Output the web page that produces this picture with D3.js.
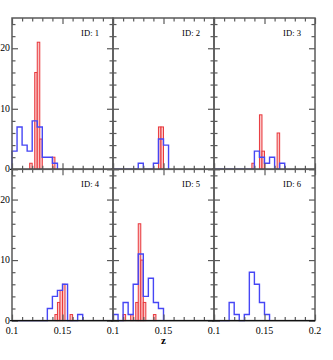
<!DOCTYPE html>
<html>
<head>
<meta charset="utf-8">
<script src="https://cdn.jsdelivr.net/npm/d3@7"></script>
<style>
  body { margin: 0; background: #fff; }
  text { font-family: "Liberation Serif", "DejaVu Serif", serif; fill: #000; }
</style>
</head>
<body>
<svg width="333" height="360"></svg>
<script>
// panel ids, left to right, top to bottom
const ids = [1, 2, 3, 4, 5, 6];

// blue histograms: bins of 0.005 starting at z = 0.1
const blueStart = 0.1, blueWidth = 0.005;
const blue1 = [3, 7, 4, 3, 8, 7, 2, 2, 1];
const blue2 = [0, 0, 0, 0, 0, 1, 0, 0, 1, 5, 4];
const blue3 = [0, 0, 0, 0, 0, 0, 0, 0, 3, 2, 1, 2, 0, 1];
const blue4 = [0, 0, 0, 0, 0, 0, 0, 2, 4, 5, 6, 0, 0, 1];
const blue5 = [1, 0, 3, 1, 6, 11, 4, 7, 3, 2];
const blue6 = [0, 0, 0, 3, 1, 0, 1, 8, 6, 3, 1];

// red histograms: bins of 0.0025 starting at z = 0.1
const redStart = 0.1, redWidth = 0.0025;
const red1 = [0, 0, 0, 0, 0, 0, 0, 1, 0, 16, 21, 5, 0, 0, 0, 0, 2];
const red2 = [0, 0, 0, 0, 0, 0, 0, 0, 0, 0, 0, 0, 0, 0, 0, 0, 0, 0, 7, 7];
const red3 = [0, 0, 0, 0, 0, 0, 0, 0, 0, 0, 0, 0, 0, 0, 0, 1, 0, 0, 9, 3, 0, 0, 0, 0, 0, 6];
const red4 = [0, 0, 0, 0, 0, 0, 0, 0, 0, 0, 0, 0, 0, 0, 0, 0, 0, 1, 3, 5, 6, 0, 0, 1];
const red5 = [0, 0, 0, 0, 1, 0, 0, 1, 0, 3, 16, 10, 3, 0, 0, 0, 1];
const red6 = [];

const blues = [blue1, blue2, blue3, blue4, blue5, blue6];
const reds = [red1, red2, red3, red4, red5, red6];

// axis ticks
const zMajor = [0.1, 0.15, 0.2];
const zMinor = [0.11, 0.12, 0.13, 0.14, 0.16, 0.17, 0.18, 0.19];
const zLabels = [0.1, 0.15];
const yMajor = [0, 10, 20];
const yMinor = [2, 4, 6, 8, 12, 14, 16, 18, 22, 24];

const padL = 12, padT = 18, pw = 101, ph = 151.3;
const frameCol = "#5a5a5a";

const svg = d3.select("svg");
const x = d3.scaleLinear().domain([0.1, 0.2]).range([0, pw]);
const y = d3.scaleLinear().domain([0, 25]).range([ph, 0]);

ids.forEach((id, k) => {
  const col = k % 3, row = Math.floor(k / 3);
  const g = svg.append("g")
    .attr("transform", `translate(${padL + col * pw},${padT + row * ph})`);

  // red bars
  const redData = reds[k].map((c, i) => ({z: redStart + i * redWidth, c: c})).filter(d => d.c > 0);
  g.selectAll("rect.red").data(redData).enter().append("rect")
    .attr("class", "red")
    .attr("x", d => x(d.z))
    .attr("width", d => x(d.z + redWidth) - x(d.z))
    .attr("y", d => y(d.c))
    .attr("height", d => y(0) - y(d.c))
    .attr("fill", "#fbc4c4")
    .attr("stroke", "#e8383c")
    .attr("stroke-width", 1);

  // blue step outline
  const b = blues[k];
  const pts = [[blueStart, 0]];
  b.forEach((c, i) => pts.push([blueStart + i * blueWidth, c]));
  pts.push([blueStart + b.length * blueWidth, 0]);
  g.append("path")
    .datum(pts)
    .attr("fill", "none")
    .attr("stroke", "#4646f5")
    .attr("stroke-width", 1.4)
    .attr("d", d3.line().x(d => x(d[0])).y(d => y(d[1])).curve(d3.curveStepAfter));

  // inward ticks on all four sides
  const fmt = () => "";
  const axes = [
    [d3.axisBottom(x), `translate(0,${ph})`, zMajor, zMinor],
    [d3.axisTop(x), "translate(0,0)", zMajor, zMinor],
    [d3.axisLeft(y), "translate(0,0)", yMajor, yMinor],
    [d3.axisRight(y), `translate(${pw},0)`, yMajor, yMinor]
  ];
  axes.forEach(([ax, tr, maj, min]) => {
    [[maj, -6], [min, -3.5]].forEach(([vals, size]) => {
      const a = g.append("g").attr("transform", tr)
        .call(ax.tickValues(vals).tickSize(size).tickSizeOuter(0).tickFormat(fmt));
      a.select(".domain").remove();
      a.selectAll("line").attr("stroke", frameCol).attr("stroke-width", 1.2);
    });
  });

  // frame
  g.append("rect")
    .attr("width", pw).attr("height", ph)
    .attr("fill", "none")
    .attr("stroke", frameCol)
    .attr("stroke-width", 1.5);

  // zero line
  g.append("line")
    .attr("x1", -2).attr("x2", pw)
    .attr("y1", y(0)).attr("y2", y(0))
    .attr("stroke", "#111").attr("stroke-width", 1.2);

  // id label
  g.append("text")
    .attr("x", pw - 14).attr("y", 18)
    .attr("text-anchor", "end")
    .style("font-size", "8.6px")
    .text("ID: " + id);

  // y labels on left column
  if (col === 0) {
    g.selectAll("text.yl").data(yMajor).enter().append("text")
      .attr("class", "yl")
      .attr("x", -2)
      .attr("y", d => y(d) + 3)
      .attr("text-anchor", "end")
      .style("font-size", "9.8px")
      .text(d => d);
  }

  // x labels on bottom row
  if (row === 1) {
    const labs = col === 2 ? zLabels.concat([0.2]) : zLabels;
    g.selectAll("text.xl").data(labs).enter().append("text")
      .attr("class", "xl")
      .attr("x", d => x(d))
      .attr("y", ph + 13)
      .attr("text-anchor", "middle")
      .style("font-size", "10px")
      .text(d => d);
  }
});

svg.append("text")
  .attr("x", padL + 1.5 * pw)
  .attr("y", padT + 2 * ph + 23.5)
  .attr("text-anchor", "middle")
  .style("font-size", "11px")
  .style("font-weight", "bold")
  .text("z");
</script>
</body>
</html>
